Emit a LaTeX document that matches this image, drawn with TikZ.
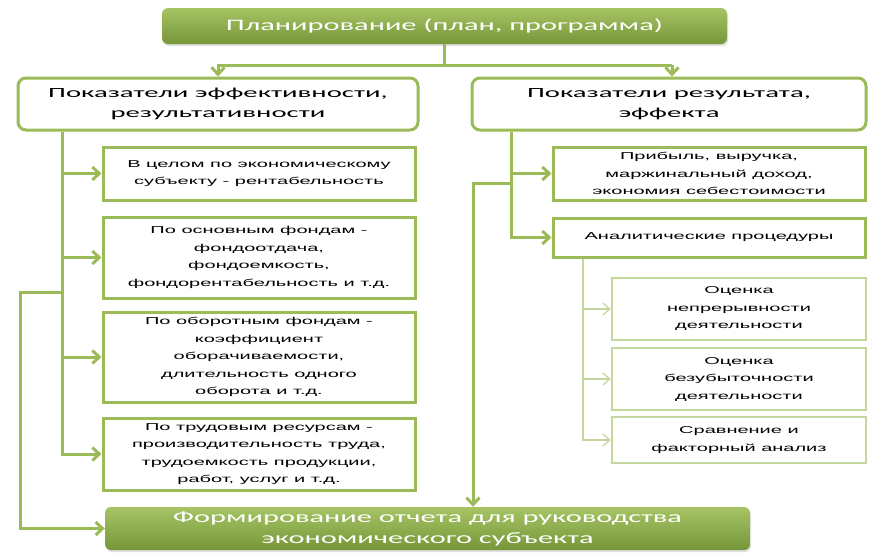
\documentclass[tikz,border=0pt]{standalone}
\usepackage{fontspec}
\setmainfont{Carlito}
\newfontfamily\tfont[FakeStretch=1.9]{Carlito}
\newfontfamily\hfont[FakeStretch=2.05]{Carlito}
\newfontfamily\bfont[FakeStretch=2.0]{Liberation Sans}
\usetikzlibrary{arrows.meta,shadows}
\definecolor{gline}{HTML}{9BBB59}
\definecolor{glight}{HTML}{C3D69B}
\definecolor{gtop}{HTML}{A6C463}
\definecolor{gbot}{HTML}{76963A}
\begin{document}
\begin{tikzpicture}[x=1pt,y=-1pt,
  filled/.style={rounded corners=6pt, top color=gtop, bottom color=gbot, draw=none, text=white,
    font=\tfont\fontsize{16}{21}\selectfont, align=center, inner sep=0pt,
    drop shadow={opacity=0.25, shadow xshift=1pt, shadow yshift=-2pt}},
  head/.style={rounded corners=8pt, draw=gline, line width=3pt, fill=white,
    font=\hfont\fontsize{14}{20}\selectfont, align=center, inner sep=0pt},
  ibox/.style={draw=gline, line width=3pt, fill=white,
    font=\bfont\fontsize{10}{17.5}\selectfont, align=center, inner sep=0pt},
  sbox/.style={ibox, draw=glight, line width=2.5pt},
  conn/.style={draw=gline, line width=3pt},
  arr/.style={conn, -{Straight Barb[length=7pt,width=13pt]}},
  thinc/.style={draw=glight, line width=1.2pt},
  tarr/.style={thinc, -{Straight Barb[length=7pt,width=12pt]}}
]
\useasboundingbox (0,0) rectangle (884,557);
% nodes
\node[filled, minimum width=565pt, minimum height=36pt] (title) at (444.5,26) {Планирование (план, программа)};
\node[head, minimum width=400pt, minimum height=52pt] (lh) at (218,104) {Показатели эффективности,\\ результативности};
\node[head, minimum width=394pt, minimum height=52pt] (rh) at (669,104) {Показатели результата,\\ эффекта};
\node[ibox, minimum width=312pt, minimum height=53pt] (b1) at (259,173.5) {В целом по экономическому\\ субъекту - рентабельность};
\node[ibox, minimum width=312pt, minimum height=81pt] (b2) at (259,257.5) {По основным фондам -\\ фондоотдача,\\ фондоемкость,\\ фондорентабельность и т.д.};
\node[ibox, minimum width=312pt, minimum height=90pt] (b3) at (259,357) {По оборотным фондам -\\ коэффициент\\ оборачиваемости,\\ длительность одного\\ оборота и т.д.};
\node[ibox, minimum width=312pt, minimum height=72pt] (b4) at (259,454) {По трудовым ресурсам -\\ производительность труда,\\ трудоемкость продукции,\\ работ, услуг и т.д.};
\node[ibox, minimum width=312pt, minimum height=53pt] (r1) at (709,173.5) {Прибыль, выручка,\\ маржинальный доход,\\ экономия себестоимости};
\node[ibox, minimum width=312pt, minimum height=39pt] (r2) at (709,237.5) {Аналитические процедуры};
\node[sbox, minimum width=254pt, minimum height=62pt] (r3) at (739,309) {Оценка\\ непрерывности\\ деятельности};
\node[sbox, minimum width=254pt, minimum height=62pt] (r4) at (739,379) {Оценка\\ безубыточности\\ деятельности};
\node[sbox, minimum width=254pt, minimum height=46pt] (r5) at (739,440) {Сравнение и\\ факторный анализ};
\node[filled, minimum width=645pt, minimum height=43pt] (bot) at (427.5,528.5) {Формирование отчета для руководства\\ экономического субъекта};
% coordinates
\coordinate (jl) at (218,65);
\coordinate (jr) at (672,65);
\coordinate (lt) at (62,0);
\coordinate (ot) at (20,292);
\coordinate (rt) at (511,0);
\coordinate (mt) at (473,183);
\coordinate (st) at (583,0);
% connectors
\draw[conn] (title.south) -- (title.south |- jl);
\draw[arr] (jr) -- (jl) -- (jl |- lh.north);
\draw[arr] (jr) -- (jr |- rh.north);
\draw[arr] (lh.south -| lt) -- (lt |- b4.west) -- (b4.west);
\draw[arr] (lt |- b1.west) -- (b1.west);
\draw[arr] (lt |- b2.west) -- (b2.west);
\draw[arr] (lt |- b3.west) -- (b3.west);
\draw[arr] (lt |- ot) -- (ot) -- (ot |- bot.west) -- (bot.west);
\draw[arr] (rh.south -| rt) -- (rt |- r2.west) -- (r2.west);
\draw[arr] (rt |- r1.west) -- (r1.west);
\draw[arr] (rt |- mt) -- (mt) -- (mt |- bot.north);
\draw[tarr] (r2.south -| st) -- (st |- r5.west) -- (r5.west);
\draw[tarr] (st |- r3.west) -- (r3.west);
\draw[tarr] (st |- r4.west) -- (r4.west);
\end{tikzpicture}
\end{document}
